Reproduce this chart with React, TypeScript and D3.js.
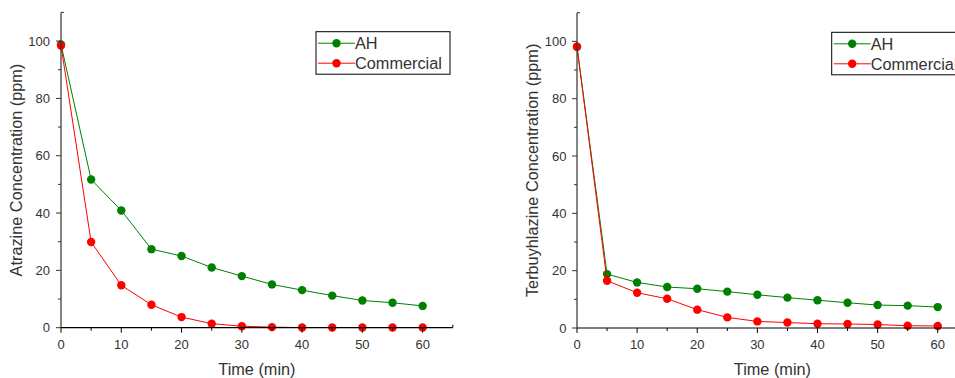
import React from "react";
import * as d3 from "d3";

const times = [0, 5, 10, 15, 20, 25, 30, 35, 40, 45, 50, 55, 60];
const atrazineAH = [98.8, 51.7, 40.9, 27.4, 25.0, 21.0, 18.0, 15.1, 13.1, 11.2, 9.5, 8.7, 7.6];
const atrazineCommercial = [98.4, 29.9, 14.8, 8.0, 3.7, 1.4, 0.5, 0.2, 0.05, 0.05, 0.05, 0.05, 0.05];
const terbAH = [98.1, 18.8, 15.9, 14.3, 13.7, 12.7, 11.6, 10.6, 9.7, 8.8, 8.0, 7.8, 7.3];
const terbCommercial = [98.1, 16.5, 12.3, 10.2, 6.4, 3.7, 2.3, 1.9, 1.5, 1.4, 1.2, 0.8, 0.7];
const xTicks = [0, 10, 20, 30, 40, 50, 60];
const xMinorTicks = [5, 15, 25, 35, 45, 55];
const yTicks = [0, 20, 40, 60, 80, 100];
const yMinorTicks = [10, 30, 50, 70, 90];
const seriesNames = ["AH", "Commercial"];
const seriesColors = ["#008000", "#ff0000"];

const FONT = "'Liberation Sans', Arial, sans-serif";

type PanelProps = {
  x0: number;
  x65: number;
  y0: number;
  y110: number;
  yLabel: string;
  yLabelX: number;
  tickLabelRight: number;
  series: number[][];
  legendX: number;
  legendY: number;
};

function Panel(p: PanelProps) {
  const x = d3.scaleLinear().domain([0, 65]).range([p.x0, p.x65]);
  const y = d3.scaleLinear().domain([0, 110]).range([p.y0, p.y110]);
  const line = d3
    .line<[number, number]>()
    .x((d) => x(d[0]))
    .y((d) => y(d[1]));
  const yMid = (p.y0 + p.y110) / 2;
  const xMid = (x(0) + x(65)) / 2;
  return (
    <g>
      {p.series.map((vals, si) => {
        const pts = times.map((t, i) => [t, vals[i]] as [number, number]);
        return (
          <g key={si}>
            <path d={line(pts) || ""} fill="none" stroke={seriesColors[si]} strokeWidth={1} />
            {pts.map((d, i) => (
              <circle key={i} cx={x(d[0])} cy={y(d[1])} r={4.2} fill={seriesColors[si]} />
            ))}
          </g>
        );
      })}
      <line x1={x(0)} x2={x(0)} y1={y(0)} y2={y(110)} stroke="#333" strokeWidth={1.2} />
      <line x1={x(0)} x2={x(0) + 3} y1={y(110)} y2={y(110)} stroke="#333" strokeWidth={1} />
      {yTicks.map((t) => (
        <g key={t}>
          <line x1={x(0) - 5} x2={x(0)} y1={y(t)} y2={y(t)} stroke="#333" strokeWidth={1} />
          <text
            x={p.tickLabelRight}
            y={y(t)}
            dy="0.36em"
            textAnchor="end"
            fontSize={13}
            fill="#333"
            fontFamily={FONT}
          >
            {t}
          </text>
        </g>
      ))}
      {yMinorTicks.map((t) => (
        <line key={t} x1={x(0) - 3} x2={x(0)} y1={y(t)} y2={y(t)} stroke="#333" strokeWidth={1} />
      ))}
      <line x1={x(0)} x2={x(65)} y1={y(0)} y2={y(0)} stroke="#000" strokeWidth={1.2} />
      <line x1={x(65)} x2={x(65)} y1={y(0)} y2={y(0) - 3} stroke="#000" strokeWidth={1} />
      {xTicks.map((t) => (
        <g key={t}>
          <line x1={x(t)} x2={x(t)} y1={y(0)} y2={y(0) + 5} stroke="#000" strokeWidth={1} />
          <text
            x={x(t)}
            y={y(0) + 21}
            textAnchor="middle"
            fontSize={13}
            fill="#333"
            fontFamily={FONT}
          >
            {t}
          </text>
        </g>
      ))}
      {xMinorTicks.map((t) => (
        <line key={t} x1={x(t)} x2={x(t)} y1={y(0)} y2={y(0) + 3} stroke="#000" strokeWidth={1} />
      ))}
      <text
        x={xMid}
        y={375}
        textAnchor="middle"
        fontSize={16.3}
        fill="#333"
        fontFamily={FONT}
      >
        Time (min)
      </text>
      <text
        transform={`translate(${p.yLabelX},${yMid}) rotate(-90)`}
        textAnchor="middle"
        fontSize={16.3}
        fill="#333"
        fontFamily={FONT}
      >
        {p.yLabel}
      </text>
      <rect
        x={p.legendX}
        y={p.legendY}
        width={134}
        height={42.5}
        fill="white"
        stroke="#000"
        strokeWidth={1}
      />
      {seriesNames.map((n, i) => {
        const cy = p.legendY + 11.5 + i * 20;
        return (
          <g key={n}>
            <line
              x1={p.legendX + 2}
              x2={p.legendX + 39}
              y1={cy}
              y2={cy}
              stroke={seriesColors[i]}
              strokeWidth={1}
            />
            <circle cx={p.legendX + 20.5} cy={cy} r={4.2} fill={seriesColors[i]} />
            <text
              x={p.legendX + 39}
              y={cy}
              dy="0.36em"
              fontSize={16.3}
              fill="#333"
              fontFamily={FONT}
            >
              {n}
            </text>
          </g>
        );
      })}
    </g>
  );
}

export default function App() {
  return (
    <svg
      width={955}
      height={378}
      style={{ position: "absolute", left: 0, top: 0, background: "white" }}
    >
      <Panel
        x0={61}
        x65={452.8}
        y0={327.7}
        y110={12.4}
        yLabel="Atrazine Concentration (ppm)"
        yLabelX={22}
        tickLabelRight={50}
        series={[atrazineAH, atrazineCommercial]}
        legendX={316}
        legendY={31.7}
      />
      <Panel
        x0={577}
        x65={967.8}
        y0={328}
        y110={12.7}
        yLabel="Terbuyhlazine Concentration (ppm)"
        yLabelX={538.3}
        tickLabelRight={566.5}
        series={[terbAH, terbCommercial]}
        legendX={831.7}
        legendY={32.3}
      />
    </svg>
  );
}
